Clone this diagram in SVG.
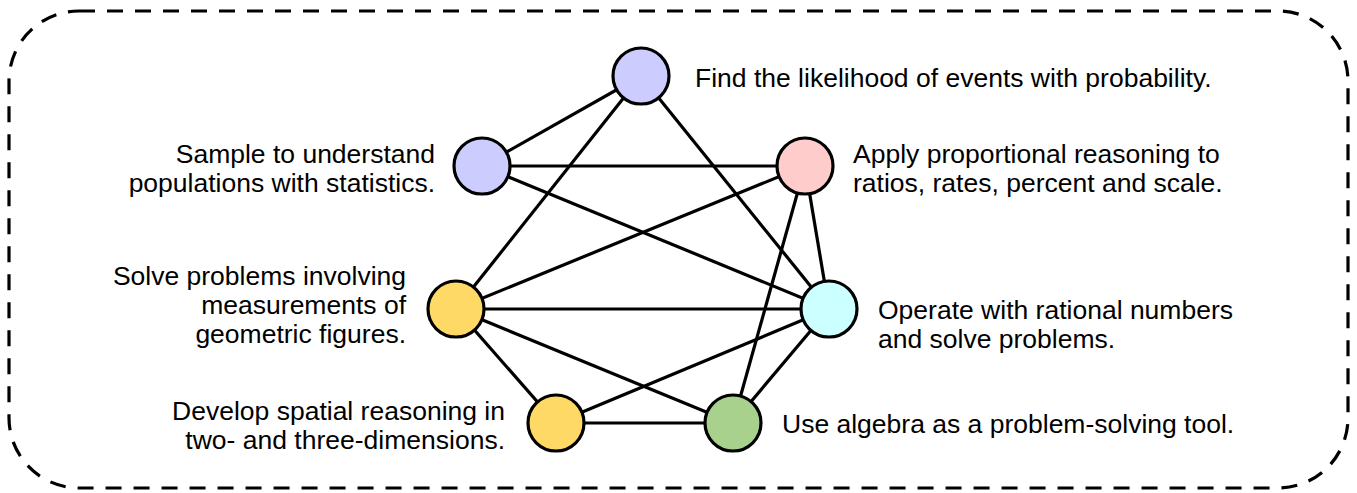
<svg xmlns="http://www.w3.org/2000/svg" width="1357" height="493" viewBox="0 0 1357 493">
<style>
.n{stroke:#000;stroke-width:3.2}
.e line{stroke:#000;stroke-width:3.2}
text{font-family:"Liberation Sans",Arial,sans-serif;font-size:26.5px;fill:#000}
.r{text-anchor:end}
</style>
<rect x="9" y="11" width="1339" height="477" rx="70" ry="70" fill="none" stroke="#000" stroke-width="3.2" stroke-dasharray="16 12"/>
<g id="connectors" class="e">
<line x1="641" y1="76" x2="482" y2="166"/>
<line x1="641" y1="76" x2="456" y2="309"/>
<line x1="641" y1="76" x2="829" y2="309"/>
<line x1="482" y1="166" x2="805" y2="166"/>
<line x1="482" y1="166" x2="829" y2="309"/>
<line x1="805" y1="166" x2="456" y2="309"/>
<line x1="805" y1="166" x2="829" y2="309"/>
<line x1="805" y1="166" x2="733" y2="423"/>
<line x1="456" y1="309" x2="829" y2="309"/>
<line x1="456" y1="309" x2="556" y2="423"/>
<line x1="456" y1="309" x2="733" y2="423"/>
<line x1="829" y1="309" x2="556" y2="423"/>
<line x1="829" y1="309" x2="733" y2="423"/>
<line x1="556" y1="423" x2="733" y2="423"/>
</g>
<g id="prob"><circle class="n" cx="641" cy="76" r="28" fill="#ccccff"/><text x="695" y="87">Find the likelihood of events with probability.</text></g>
<g id="stat"><circle class="n" cx="482" cy="166" r="28" fill="#ccccff"/><text class="r" x="435" y="163">Sample to understand</text><text class="r" x="435" y="192">populations with statistics.</text></g>
<g id="ratio"><circle class="n" cx="805" cy="166" r="28" fill="#ffcccc"/><text x="853" y="163">Apply proportional reasoning to</text><text x="853" y="192">ratios, rates, percent and scale.</text></g>
<g id="geom"><circle class="n" cx="456" cy="309" r="28" fill="#ffd966"/><text class="r" x="406" y="285">Solve problems involving</text><text class="r" x="406" y="314">measurements of</text><text class="r" x="406" y="343">geometric figures.</text></g>
<g id="rational"><circle class="n" cx="829" cy="309" r="28" fill="#ccffff"/><text x="878" y="319">Operate with rational numbers</text><text x="878" y="348">and solve problems.</text></g>
<g id="spatial"><circle class="n" cx="556" cy="423" r="28" fill="#ffd966"/><text class="r" x="505" y="420">Develop spatial reasoning in</text><text class="r" x="505" y="449">two- and three-dimensions.</text></g>
<g id="algebra"><circle class="n" cx="733" cy="423" r="28" fill="#a9d18e"/><text x="782" y="433">Use algebra as a problem-solving tool.</text></g>
</svg>
